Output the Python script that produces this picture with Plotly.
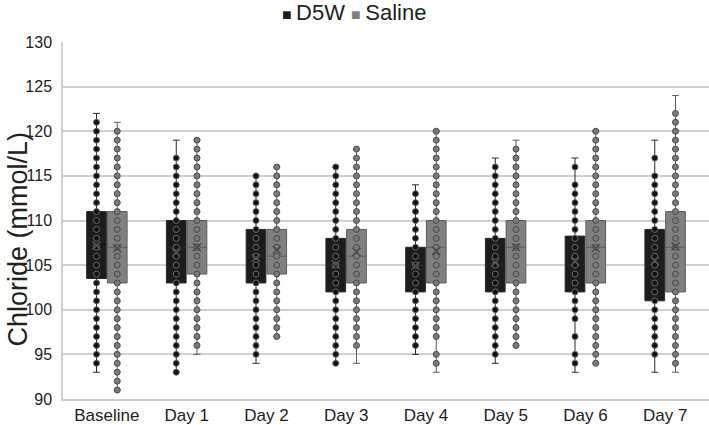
import plotly.graph_objects as go

days = ["Baseline", "Day 1", "Day 2", "Day 3", "Day 4", "Day 5", "Day 6", "Day 7"]

# ---- D5W box statistics ----
d5w_min = [93, 93, 94, 94, 95, 94, 93, 93]
d5w_q1 = [103.5, 103, 103, 102, 102, 102, 102, 101]
d5w_med = [108, 107, 106, 105, 105, 105, 105, 105]
d5w_q3 = [111, 110, 109, 108, 107, 108, 108.25, 109]
d5w_max = [122, 119, 115, 116, 114, 117, 117, 119]
d5w_mean = [107.2, 106.4, 105.8, 105.1, 104.9, 105.3, 105.4, 105.5]

# ---- Saline box statistics ----
sal_min = [91, 95, 97, 94, 93, 96, 94, 93]
sal_q1 = [103, 104, 104, 103, 103, 103, 103, 102]
sal_med = [107, 107, 106, 106, 107, 107, 107, 107]
sal_q3 = [111, 110, 109, 109, 110, 110, 110, 111]
sal_max = [121, 119, 116, 118, 120, 119, 120, 124]
sal_mean = [106.9, 107.0, 106.7, 106.5, 106.6, 107.0, 106.9, 107.1]

# ---- individual data points (distinct values shown) ----
d5w_points = {
    "Baseline": [94, 95, 96, 97, 98, 99, 100, 101, 102, 103, 104, 105, 106, 107, 108, 109, 110, 111, 112, 113, 114, 115, 116, 117, 118, 119, 120, 121],
    "Day 1": [93, 94, 95, 96, 97, 98, 99, 100, 101, 102, 103, 104, 105, 106, 107, 108, 109, 110, 111, 112, 113, 114, 115, 116, 117],
    "Day 2": [95, 96, 97, 98, 99, 100, 101, 102, 103, 104, 105, 106, 107, 108, 109, 110, 111, 112, 113, 114, 115],
    "Day 3": [94, 95, 96, 97, 98, 99, 100, 101, 102, 103, 104, 105, 106, 107, 108, 109, 110, 111, 112, 113, 114, 115, 116],
    "Day 4": [96, 97, 98, 99, 100, 101, 102, 103, 104, 105, 106, 107, 108, 109, 110, 111, 112, 113],
    "Day 5": [95, 96, 97, 98, 99, 100, 101, 102, 103, 104, 105, 106, 107, 108, 109, 110, 111, 112, 113, 114, 115, 116],
    "Day 6": [94, 95, 97, 99, 100, 101, 102, 103, 104, 105, 106, 107, 108, 109, 110, 111, 112, 113, 114, 116],
    "Day 7": [95, 96, 97, 98, 99, 100, 101, 102, 103, 104, 105, 106, 107, 108, 109, 110, 111, 112, 113, 114, 115, 117],
}
sal_points = {
    "Baseline": [91, 92, 93, 94, 95, 96, 97, 98, 99, 100, 101, 102, 103, 104, 105, 106, 107, 108, 109, 110, 111, 112, 113, 114, 115, 116, 117, 118, 119, 120],
    "Day 1": [96, 97, 98, 99, 100, 101, 102, 103, 104, 105, 106, 107, 108, 109, 110, 111, 112, 113, 114, 115, 116, 117, 118, 119],
    "Day 2": [97, 98, 99, 100, 101, 102, 103, 104, 105, 106, 107, 108, 109, 110, 111, 112, 113, 114, 115, 116],
    "Day 3": [96, 97, 98, 99, 100, 101, 102, 103, 104, 105, 106, 107, 108, 109, 110, 111, 112, 113, 114, 115, 116, 117, 118],
    "Day 4": [94, 95, 97, 98, 99, 100, 101, 102, 103, 104, 105, 106, 107, 108, 109, 110, 111, 112, 113, 114, 115, 116, 117, 118, 119, 120],
    "Day 5": [96, 97, 98, 99, 100, 101, 102, 103, 104, 105, 106, 107, 108, 109, 110, 111, 112, 113, 114, 115, 116, 117, 118],
    "Day 6": [94, 95, 96, 97, 98, 99, 100, 101, 102, 103, 104, 105, 106, 107, 108, 109, 110, 111, 112, 113, 114, 115, 116, 117, 118, 119, 120],
    "Day 7": [94, 95, 96, 97, 98, 99, 100, 101, 102, 103, 104, 105, 106, 107, 108, 109, 110, 111, 112, 113, 114, 115, 116, 117, 118, 119, 120, 121, 122],
}

series = [
    dict(name="D5W", mn=d5w_min, q1=d5w_q1, med=d5w_med, q3=d5w_q3, mx=d5w_max, mean=d5w_mean,
         pts=d5w_points, fill="#1c1c1c", line="#2a2a2a", mfill="#111111", mline="#6a6a6a", xcol="#555555"),
    dict(name="Saline", mn=sal_min, q1=sal_q1, med=sal_med, q3=sal_q3, mx=sal_max, mean=sal_mean,
         pts=sal_points, fill="#808080", line="#5c5c5c", mfill="#7a7a7a", mline="#4a4a4a", xcol="#4a4a4a"),
]

fig = go.Figure()
for s in series:
    fig.add_trace(go.Box(
        name=s["name"], x=days, q1=s["q1"], median=s["med"], q3=s["q3"],
        lowerfence=s["mn"], upperfence=s["mx"],
        fillcolor=s["fill"], line=dict(color=s["line"], width=1),
        whiskerwidth=0.35, offsetgroup=s["name"], boxpoints=False,
        showlegend=False, hoverinfo="skip",
    ))
for s in series:
    xs, ys = [], []
    for d in days:
        xs += [d] * len(s["pts"][d])
        ys += s["pts"][d]
    fig.add_trace(go.Box(
        name=s["name"] + " points", x=xs, y=ys, boxpoints="all", jitter=0, pointpos=0,
        fillcolor="rgba(0,0,0,0)", line=dict(width=0, color="rgba(0,0,0,0)"),
        marker=dict(size=6, color=s["mfill"], line=dict(color=s["mline"], width=1)),
        offsetgroup=s["name"], showlegend=False, hoverinfo="skip",
    ))
for s in series:
    fig.add_trace(go.Box(
        name=s["name"] + " mean", x=days, y=s["mean"], boxpoints="all", jitter=0, pointpos=0,
        fillcolor="rgba(0,0,0,0)", line=dict(width=0, color="rgba(0,0,0,0)"),
        marker=dict(size=8, symbol="x-thin", color=s["xcol"], line=dict(width=1.5, color=s["xcol"])),
        offsetgroup=s["name"], showlegend=False, hoverinfo="skip",
    ))

FONT = "Liberation Sans, Arial, sans-serif"
legend_text = (
    "<span style='color:%s;font-size:16px'>■ </span>D5W "
    "<span style='color:%s;font-size:16px'>■ </span>Saline" % (series[0]["fill"], series[1]["fill"])
)
fig.add_annotation(
    text=legend_text, xref="paper", yref="paper", x=0.45, y=1.0, yanchor="middle",
    xanchor="center", yshift=30, showarrow=False,
    font=dict(size=22, color="#222222", family=FONT),
)
fig.add_annotation(
    text="Chloride (mmol/L)", xref="paper", yref="paper", x=0, y=0.5, textangle=-90,
    xanchor="center", yanchor="middle", xshift=-46, yshift=-19, showarrow=False,
    font=dict(size=27, color="#222222", family=FONT),
)

fig.update_layout(
    width=709, height=425,
    margin=dict(l=63, r=0, t=42, b=26, autoexpand=False),
    paper_bgcolor="white", plot_bgcolor="white",
    boxmode="group", boxgap=0.48, boxgroupgap=0.05,
    showlegend=False,
    font=dict(family=FONT, color="#222222"),
    xaxis=dict(type="category", categoryorder="array", categoryarray=days, automargin=False,
               showline=True, linecolor="#d0d0d0", linewidth=1.5,
               tickfont=dict(size=17, color="#222222"), ticks=""),
    yaxis=dict(range=[90, 130], dtick=5, showgrid=True, gridcolor="#d0d0d0", gridwidth=1.5,
               automargin=False, ticklabelstandoff=6,
               showline=True, linecolor="#d0d0d0", linewidth=1.5, zeroline=False,
               tickfont=dict(size=16, color="#222222"), ticks=""),
)

fig.write_html("out.html", config={"displayModeBar": False},
               post_script="document.body.style.margin='0';document.body.style.padding='0';")
